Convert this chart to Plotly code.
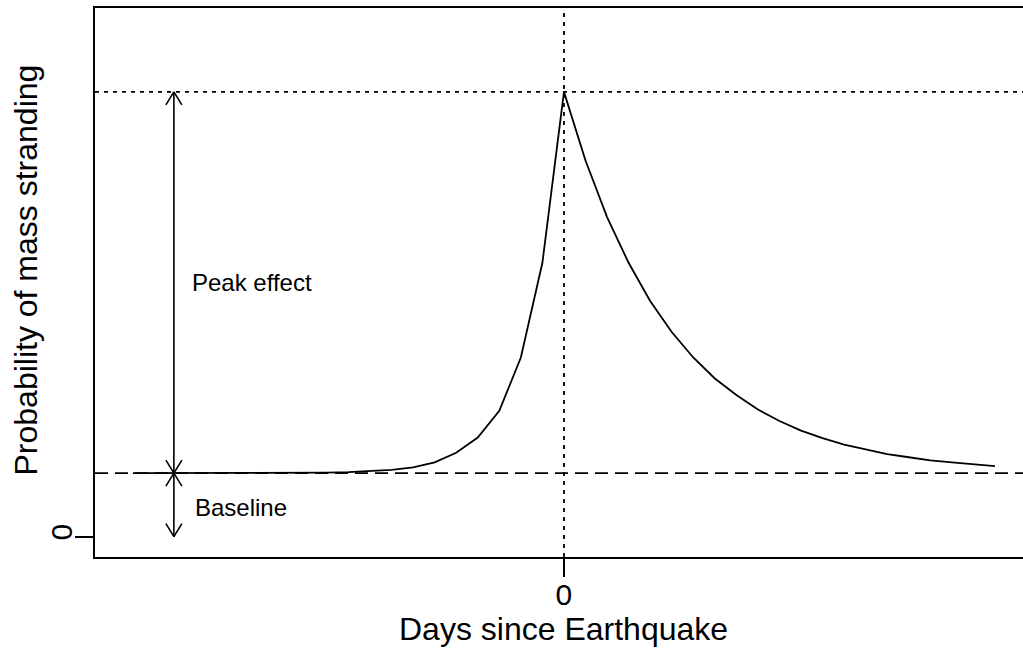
import plotly.graph_objects as go

# Data
days = list(range(-20, 21))
prob = [0.100, 0.100, 0.100, 0.100, 0.100, 0.100, 0.100, 0.1003, 0.1005, 0.1008,
        0.1015, 0.1028, 0.105, 0.109, 0.117, 0.132, 0.156, 0.198, 0.282, 0.431,
        0.700,
        0.592, 0.503, 0.431, 0.371, 0.322, 0.282, 0.249, 0.223, 0.200, 0.182,
        0.167, 0.155, 0.145, 0.137, 0.130, 0.125, 0.120, 0.117, 0.114, 0.111]
baseline = 0.1
peak = 0.7
arrow_x = -18.1
x_ticks = [0]
x_ticklabels = ["0"]
y_ticks = [0]
y_ticklabels = ["0"]
x_title = "Days since Earthquake"
y_title = "Probability of mass stranding"

FONT = "Liberation Sans, Arial, sans-serif"
TKFS = 30
TTFS = 32
ANFS = 24

fig = go.Figure()
fig.add_trace(go.Scatter(x=days, y=prob, mode="lines",
                         line=dict(color="black", width=1.8), hoverinfo="skip"))

shapes = []
# reference lines
shapes.append(dict(type="line", xref="x", yref="paper", x0=0, x1=0, y0=0, y1=1,
                   line=dict(color="black", width=1.8, dash="4px,5px")))
shapes.append(dict(type="line", xref="paper", yref="y", x0=0, x1=1, y0=peak, y1=peak,
                   line=dict(color="black", width=1.6, dash="4px,5px")))
shapes.append(dict(type="line", xref="paper", yref="y", x0=0, x1=1, y0=baseline, y1=baseline,
                   line=dict(color="black", width=1.6, dash="13px,7px")))
# arrow shafts
shapes.append(dict(type="line", xref="x", yref="y", x0=arrow_x, x1=arrow_x, y0=baseline, y1=peak,
                   line=dict(color="black", width=1.6)))
shapes.append(dict(type="line", xref="x", yref="y", x0=arrow_x, x1=arrow_x, y0=0, y1=baseline,
                   line=dict(color="black", width=1.6)))

def head(yanchor, direction):
    # direction +1: tip pointing up (wings go down), -1: tip pointing down
    out = []
    for sx in (-8, 8):
        out.append(dict(type="line", xref="x", yref="y",
                        xsizemode="pixel", ysizemode="pixel",
                        xanchor=arrow_x, yanchor=yanchor,
                        x0=0, y0=0, x1=sx, y1=-13 * direction,
                        line=dict(color="black", width=1.6)))
    return out

shapes += head(peak, 1)
shapes += head(baseline, -1)
shapes += head(baseline, 1)
shapes += head(0, -1)

annotations = [
    dict(x=-17.35, y=0.40, xref="x", yref="y", text="Peak effect", showarrow=False,
         xanchor="left", yanchor="middle", font=dict(family=FONT, size=ANFS, color="black")),
    dict(x=-17.2, y=0.046, xref="x", yref="y", text="Baseline", showarrow=False,
         xanchor="left", yanchor="middle", font=dict(family=FONT, size=ANFS, color="black")),
    dict(x=0, y=0, xref="x", yref="paper", text=x_title, showarrow=False,
         xanchor="center", yanchor="middle", yshift=-72,
         font=dict(family=FONT, size=TTFS, color="black")),
    dict(x=0, y=0.5, xref="paper", yref="paper", text=y_title, showarrow=False,
         textangle=-90, xanchor="center", yanchor="middle", xshift=-70, yshift=12,
         font=dict(family=FONT, size=TTFS, color="black")),
]

fig.update_layout(
    width=1023, height=648,
    margin=dict(l=95, r=0, t=8, b=91),
    paper_bgcolor="white", plot_bgcolor="white",
    showlegend=False,
    shapes=shapes,
    annotations=annotations,
    font=dict(family=FONT, color="black"),
    xaxis=dict(range=[-21.76, 21.30], showgrid=False, zeroline=False,
               showline=True, mirror=True, linecolor="black", linewidth=1.8,
               ticks="outside", ticklen=18, tickwidth=1.8, tickcolor="black",
               tickvals=x_ticks, ticktext=x_ticklabels, ticklabelstandoff=-8,
               tickfont=dict(family=FONT, size=TKFS, color="black")),
    yaxis=dict(range=[-0.032, 0.832], showgrid=False, zeroline=False,
               showline=True, mirror=False, linecolor="black", linewidth=1.8,
               ticks="outside", ticklen=18, tickwidth=1.8, tickcolor="black",
               tickvals=y_ticks, ticktext=y_ticklabels, tickangle=-90,
               ticklabelstandoff=-9,
               tickfont=dict(family=FONT, size=TKFS, color="black")),
)

fig.write_html("out.html")
